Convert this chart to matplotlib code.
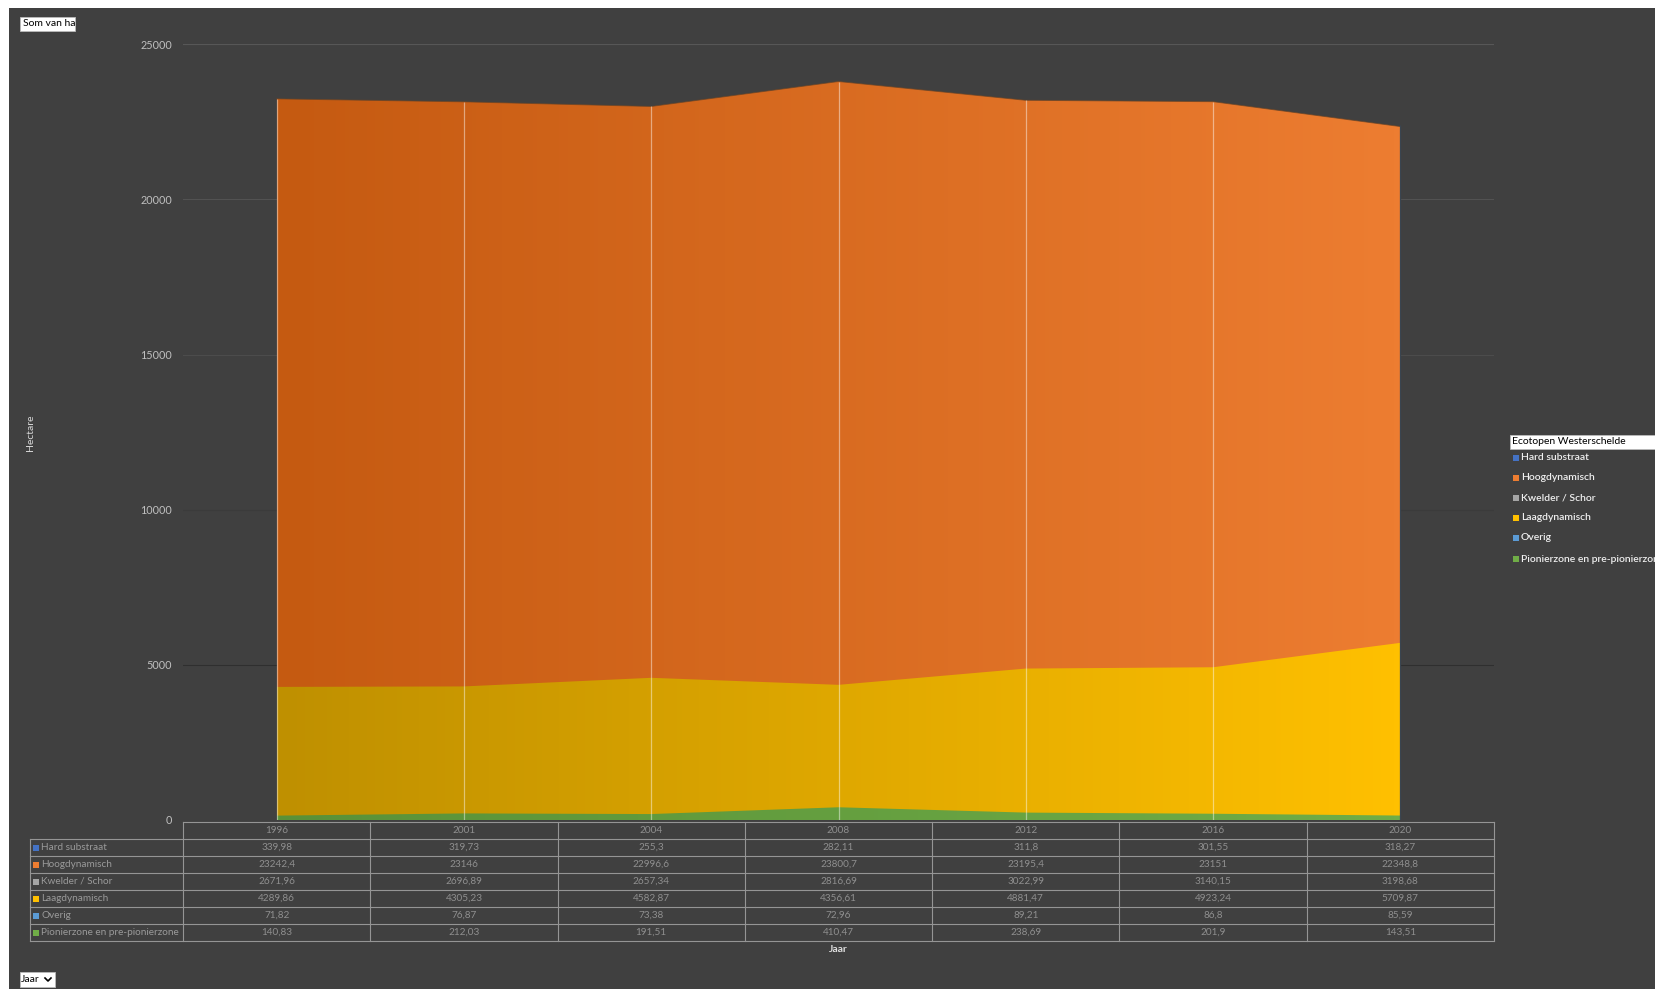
import numpy as np
import matplotlib
matplotlib.use('Agg')
import matplotlib.pyplot as plt
from matplotlib.colors import LinearSegmentedColormap
from matplotlib.patches import Rectangle
from matplotlib.lines import Line2D

plt.rcParams['font.family'] = ['Lato', 'DejaVu Sans']

years = ['1996', '2001', '2004', '2008', '2012', '2016', '2020']
series_names = ['Hard substraat', 'Hoogdynamisch', 'Kwelder / Schor',
                'Laagdynamisch', 'Overig', 'Pionierzone en pre-pionierzone']
hard_substraat = [339.98, 319.73, 255.3, 282.11, 311.8, 301.55, 318.27]
hoogdynamisch = [23242.4, 23146, 22996.6, 23800.7, 23195.4, 23151, 22348.8]
kwelder_schor = [2671.96, 2696.89, 2657.34, 2816.69, 3022.99, 3140.15, 3198.68]
laagdynamisch = [4289.86, 4305.23, 4582.87, 4356.61, 4881.47, 4923.24, 5709.87]
overig = [71.82, 76.87, 73.38, 72.96, 89.21, 86.8, 85.59]
pionierzone = [140.83, 212.03, 191.51, 410.47, 238.69, 201.9, 143.51]
yticks = [0, 5000, 10000, 15000, 20000, 25000]

all_series = [hard_substraat, hoogdynamisch, kwelder_schor, laagdynamisch, overig, pionierzone]
legend_colors = ['#4472C4', '#ED7D31', '#A5A5A5', '#FFC000', '#5B9BD5', '#70AD47']
grad_colors = [('#3f68b5', '#4472C4'), ('#C55A11', '#ED7D31'), ('#8f8f8f', '#A5A5A5'),
               ('#BF9000', '#FFC000'), ('#4a86bd', '#5B9BD5'), ('#5a9138', '#70AD47')]
grid_colors = {5000: '#2f2f2f', 10000: '#3b3b3b', 15000: '#4c4c4c', 20000: '#525252', 25000: '#575757'}

W, H = 1655, 989
BG = '#404040'
fig = plt.figure(figsize=(W / 100, H / 100), dpi=100, facecolor='white')


def fx(px):
    return px / W


def fy(py):
    return 1 - py / H


# dark chart area with white margin
fig.patches.append(Rectangle((fx(9), 0), 1 - fx(9), fy(8), transform=fig.transFigure,
                             facecolor=BG, edgecolor='none', zorder=-5))

L, R, T, B = 183, 1494, 44.3, 820
ax = fig.add_axes([fx(L), fy(B), (R - L) / W, (B - T) / H])
ax.set_zorder(2)
ax.set_facecolor('none')
x = np.arange(len(years))

for t in yticks[1:]:
    ax.axhline(t, color=grid_colors[t], lw=0.8, zorder=0)


def grad_fill(yv, c0, c1, z):
    poly = ax.fill_between(x, 0, yv, facecolor='none', lw=0, zorder=z)
    cmap = LinearSegmentedColormap.from_list('g', [c0, c1])
    grad = np.linspace(0, 1, 256).reshape(1, -1)
    im = ax.imshow(grad, cmap=cmap, aspect='auto', origin='lower',
                   extent=[x[0], x[-1], 0, max(yv)], zorder=z, interpolation='bilinear')
    im.set_clip_path(poly.get_paths()[0], transform=ax.transData)


for i, (s, (c0, c1)) in enumerate(zip(all_series, grad_colors)):
    grad_fill(s, c0, c1, 2 + i)

ax.plot(x, hoogdynamisch, color='#6b4425', lw=0.7, alpha=0.7, zorder=3.5)
ax.vlines(x[:-1], 0, hoogdynamisch[:-1], colors='white', alpha=0.45, lw=0.9, zorder=20)
ax.vlines(x[-1], 0, hoogdynamisch[-1] + 60, colors='#3a4550', lw=0.9, zorder=20)

ax.set_xlim(-0.5, len(years) - 0.5)
ax.set_ylim(0, 25000)
ax.set_yticks(yticks)
ax.set_yticklabels([str(t) for t in yticks])
ax.tick_params(axis='y', length=0, pad=8, labelcolor='#bfbfbf', labelsize=7.8)
ax.set_xticks([])
for sp in ax.spines.values():
    sp.set_visible(False)

# data table
line_col = '#959595'
col_edges = [L + i * (R - L) / len(years) for i in range(len(years) + 1)]
row_h = 17
top = 822
row_edges = [top + k * row_h for k in range(len(all_series) + 2)]
lbl_left = 30


def hline(x0, x1, y):
    fig.lines.append(Line2D([fx(x0), fx(x1)], [fy(y), fy(y)], transform=fig.transFigure,
                            color=line_col, lw=0.8))


def vline(xp, y0, y1):
    fig.lines.append(Line2D([fx(xp), fx(xp)], [fy(y0), fy(y1)], transform=fig.transFigure,
                            color=line_col, lw=0.8))


hline(L, R, row_edges[0])
for ry in row_edges[1:]:
    hline(lbl_left, R, ry)
for cx in col_edges:
    vline(cx, row_edges[0], row_edges[-1])
vline(lbl_left, row_edges[1], row_edges[-1])

val_col = '#8f8f8f'
for j, yr in enumerate(years):
    cx = (col_edges[j] + col_edges[j + 1]) / 2
    fig.text(fx(cx), fy((row_edges[0] + row_edges[1]) / 2), yr, ha='center', va='center',
             color=val_col, fontsize=7.2)
for i, (name, s) in enumerate(zip(series_names, all_series)):
    cy = (row_edges[i + 1] + row_edges[i + 2]) / 2
    fig.patches.append(Rectangle((fx(lbl_left + 3), fy(cy + 3)), 6 / W, 6 / H,
                                 transform=fig.transFigure, facecolor=legend_colors[i],
                                 edgecolor='none'))
    fig.text(fx(lbl_left + 11), fy(cy), name, ha='left', va='center', color='#9a9a9a', fontsize=7.2)
    for j, v in enumerate(s):
        cx = (col_edges[j] + col_edges[j + 1]) / 2
        fig.text(fx(cx), fy(cy), '{:g}'.format(v).replace('.', ','), ha='center', va='center',
                 color=val_col, fontsize=7.2)

fig.text(fx((L + R) / 2), fy(949), 'Jaar', ha='center', va='center', color='#e0e0e0',
         fontsize=7.5, fontweight='bold')
fig.text(fx(31), fy(433), 'Hectare', ha='center', va='center', rotation=90,
         color='#d9d9d9', fontsize=7.5)

# "Som van ha" field button
fig.patches.append(Rectangle((fx(20), fy(31)), 55 / W, 14 / H, transform=fig.transFigure,
                             facecolor='white', edgecolor='#bbbbbb', lw=0.6))
fig.text(fx(23), fy(24), 'Som van ha', ha='left', va='center', color='black', fontsize=7.5)

# "Jaar" dropdown
fig.patches.append(Rectangle((fx(20), fy(987)), 35 / W, 15 / H, transform=fig.transFigure,
                             facecolor='white', edgecolor='#bbbbbb', lw=0.6))
fig.text(fx(21), fy(979.5), 'Jaar', ha='left', va='center', color='black', fontsize=7.5)
fig.lines.append(Line2D([fx(45), fx(48), fx(51)], [fy(978), fy(981), fy(978)],
                        transform=fig.transFigure, color='black', lw=1.2))

# legend
fig.patches.append(Rectangle((fx(1510), fy(449)), 150 / W, 14 / H, transform=fig.transFigure,
                             facecolor='white', edgecolor='#bbbbbb', lw=0.6))
fig.text(fx(1512), fy(442), 'Ecotopen Westerschelde', ha='left', va='center',
         color='black', fontsize=7.5)
leg_y = [458, 478, 498, 518, 538, 559]
for name, c, ly in zip(series_names, legend_colors, leg_y):
    fig.patches.append(Rectangle((fx(1513), fy(ly + 3)), 6 / W, 6 / H,
                                 transform=fig.transFigure, facecolor=c, edgecolor='none'))
    fig.text(fx(1521), fy(ly), name, ha='left', va='center', color='#f0f0f0',
             fontsize=7.5, fontweight='semibold')

fig.savefig('out.png', dpi=100, facecolor='white')
